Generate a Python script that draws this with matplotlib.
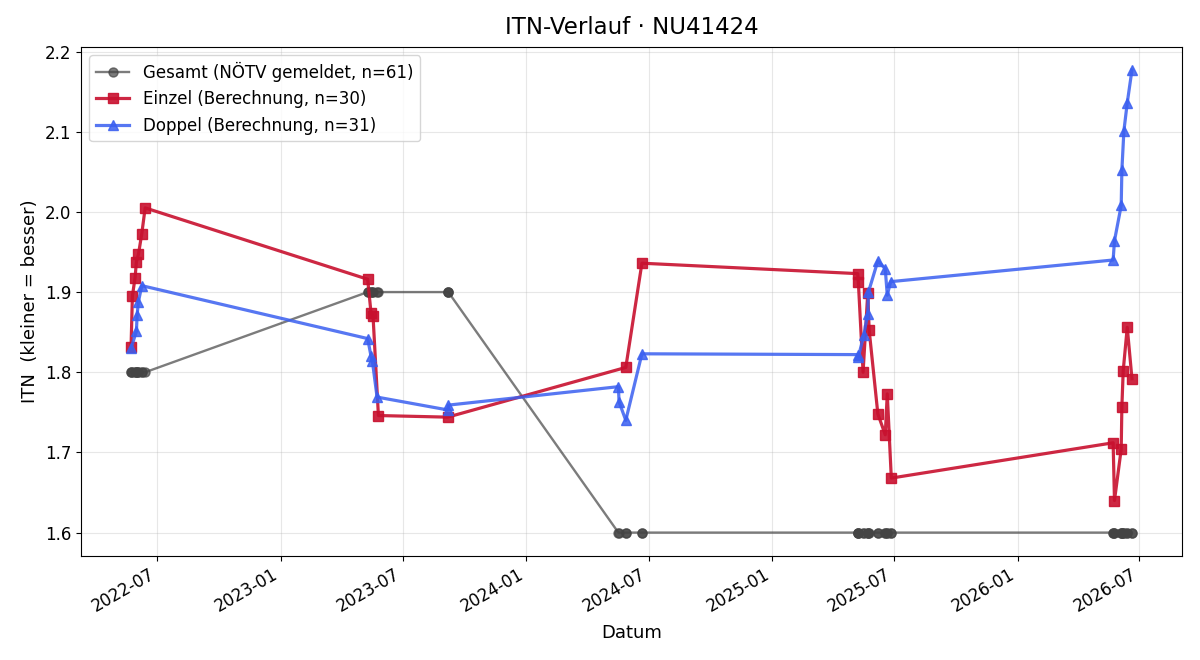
import pandas as pd
import matplotlib.pyplot as plt
import matplotlib.dates as mdates

# Einzel (single matches)
einzel_dates = ['2022-05-23', '2022-05-25', '2022-05-29', '2022-05-31', '2022-06-03', '2022-06-08', '2022-06-13',
                '2023-05-10', '2023-05-15', '2023-05-18', '2023-05-26', '2023-09-06',
                '2024-05-28', '2024-06-21',
                '2025-05-08', '2025-05-09', '2025-05-16', '2025-05-23', '2025-05-25', '2025-06-07', '2025-06-18',
                '2025-06-21', '2025-06-27',
                '2026-05-23', '2026-05-25', '2026-06-04', '2026-06-05', '2026-06-07', '2026-06-13', '2026-06-20']
einzel_itn = [1.831, 1.895, 1.918, 1.938, 1.947, 1.973, 2.005,
              1.916, 1.874, 1.870, 1.746, 1.744,
              1.806, 1.936,
              1.923, 1.912, 1.800, 1.899, 1.853, 1.748, 1.722, 1.773, 1.668,
              1.712, 1.640, 1.704, 1.757, 1.802, 1.856, 1.792]

# Doppel (double matches)
doppel_dates = ['2022-05-23', '2022-05-31', '2022-06-01', '2022-06-03', '2022-06-08',
                '2023-05-10', '2023-05-15', '2023-05-17', '2023-05-24', '2023-09-06', '2023-09-07',
                '2024-05-17', '2024-05-18', '2024-05-28', '2024-06-21',
                '2025-05-08', '2025-05-09', '2025-05-17', '2025-05-23', '2025-05-24', '2025-06-07', '2025-06-18',
                '2025-06-21', '2025-06-26',
                '2026-05-23', '2026-05-25', '2026-06-04', '2026-06-05', '2026-06-08', '2026-06-13', '2026-06-20']
doppel_itn = [1.830, 1.851, 1.871, 1.888, 1.908,
              1.842, 1.820, 1.814, 1.769, 1.753, 1.759,
              1.782, 1.763, 1.740, 1.823,
              1.822, 1.819, 1.846, 1.873, 1.900, 1.939, 1.929, 1.896, 1.913,
              1.940, 1.964, 2.008, 2.052, 2.101, 2.136, 2.177]

# Gesamt (official NÖTV value) per match, sorted by date
gesamt_dates = sorted(einzel_dates + doppel_dates)
gesamt_itn = [1.8] * 12 + [1.9] * 11 + [1.6] * 6 + [1.6] * 18 + [1.6] * 14

einzel = pd.DataFrame({'date': pd.to_datetime(einzel_dates), 'itn': einzel_itn})
doppel = pd.DataFrame({'date': pd.to_datetime(doppel_dates), 'itn': doppel_itn})
gesamt = pd.DataFrame({'date': pd.to_datetime(gesamt_dates), 'itn': gesamt_itn})

fig, ax = plt.subplots(figsize=(12, 6.6), dpi=100)

ax.plot(gesamt['date'], gesamt['itn'], marker='o', linestyle='-', color='#444444', alpha=0.7,
        linewidth=1.7, markersize=6.5, label=f'Gesamt (NÖTV gemeldet, n={len(gesamt)})')
ax.plot(einzel['date'], einzel['itn'], marker='s', linestyle='-', color='#c8102e', alpha=0.9,
        linewidth=2.3, markersize=7.5, label=f'Einzel (Berechnung, n={len(einzel)})')
ax.plot(doppel['date'], doppel['itn'], marker='^', linestyle='-', color='#3a5ff0', alpha=0.85,
        linewidth=2.3, markersize=7.5, label=f'Doppel (Berechnung, n={len(doppel)})')

ax.set_title('ITN-Verlauf · NU41424', fontsize=16.5, pad=9)
ax.set_xlabel('Datum', fontsize=13, labelpad=6)
ax.set_ylabel('ITN  (kleiner = besser)', fontsize=13)
ax.xaxis.set_major_locator(mdates.MonthLocator(bymonth=[1, 7]))
ax.xaxis.set_major_formatter(mdates.DateFormatter('%Y-%m'))
ax.tick_params(labelsize=12)
ax.grid(True, alpha=0.3)
ax.legend(loc='upper left', fontsize=12)
fig.autofmt_xdate()

fig.subplots_adjust(left=0.0675, right=0.985, top=0.929, bottom=0.158)
plt.savefig('out.png', dpi=100)
